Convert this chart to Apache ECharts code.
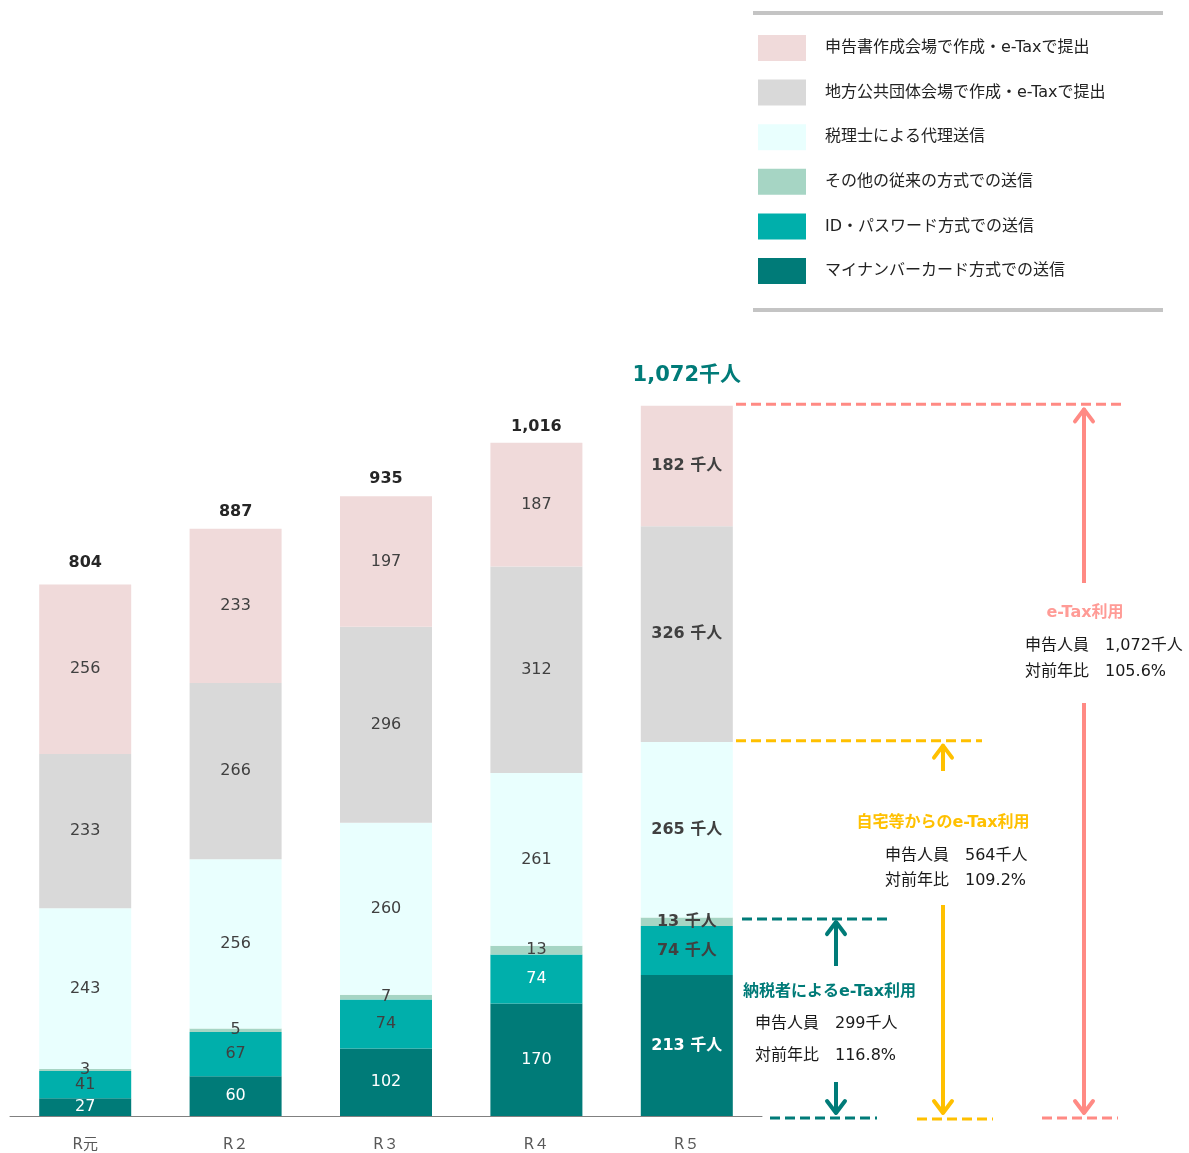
<!DOCTYPE html>
<html><head><meta charset="utf-8">
<script src="https://cdn.jsdelivr.net/npm/echarts@6/dist/echarts.min.js"></script>
<style>html,body{margin:0;padding:0;background:#fff}#c{width:1189px;height:1153px}</style>
</head><body><div id="c"></div>
<script>
const categories = ['R元', 'R２', 'R３', 'R４', 'R５'];
const myNumber = [27, 60, 102, 170, 213];
const idPassword = [41, 67, 74, 74, 74];
const otherTrad = [3, 5, 7, 13, 13];
const taxAccountant = [243, 256, 260, 261, 265];
const localGov = [233, 266, 296, 312, 326];
const venue = [256, 233, 197, 187, 182];
const totals = ['804', '887', '935', '1,016', '1,072千人'];
const seriesNames = ['マイナンバーカード方式での送信', 'ID・パスワード方式での送信', 'その他の従来の方式での送信', '税理士による代理送信', '地方公共団体会場で作成・e-Taxで提出', '申告書作成会場で作成・e-Taxで提出'];
const ann = {
  all: {title: 'e-Tax利用', people: '1,072千人', ratio: '105.6%', value: 1072},
  home: {title: '自宅等からのe-Tax利用', people: '564千人', ratio: '109.2%', value: 564},
  self: {title: '納税者によるe-Tax利用', people: '299千人', ratio: '116.8%', value: 299}
};

const FONT = '"DejaVu Sans", "Noto Sans CJK JP", sans-serif';
const colors = ['#007b78', '#00afab', '#a6d5c4', '#e9fffe', '#d9d9d9', '#f0dada'];
const labelColors = [
  ['#ffffff','#ffffff','#ffffff','#ffffff','#ffffff'],
  ['#404040','#404040','#404040','#ffffff','#404040'],
  ['#404040','#404040','#404040','#404040','#404040'],
  ['#404040','#404040','#404040','#404040','#404040'],
  ['#404040','#404040','#404040','#404040','#404040'],
  ['#404040','#404040','#404040','#404040','#404040']
];
const values = [myNumber, idPassword, otherTrad, taxAccountant, localGov, venue];

const series = values.map((arr, si) => ({
  name: seriesNames[si],
  type: 'bar',
  stack: 'total',
  barWidth: 92,
  itemStyle: {color: colors[si]},
  data: arr.map((v, i) => ({
    value: v,
    label: {
      show: true,
      position: 'inside',
      color: labelColors[si][i],
      fontFamily: FONT,
      fontSize: 16,
      fontWeight: i === 4 ? 'bold' : 'normal',
      formatter: i === 4 ? (v + ' 千人') : String(v)
    }
  }))
}));
const totalDist = [14, 9, 10, 8, 20];
series.push({
  name: 'total',
  type: 'bar',
  stack: 'total',
  barWidth: 92,
  itemStyle: {color: 'transparent'},
  data: totals.map((t, i) => ({
    value: 0,
    label: {
      show: true,
      position: 'top',
      distance: totalDist[i],
      formatter: t,
      fontFamily: FONT,
      fontWeight: 'bold',
      fontSize: i === 4 ? 21 : 16,
      color: i === 4 ? '#007b78' : '#262626'
    }
  }))
});

const chart = echarts.init(document.getElementById('c'));
chart.setOption({
  animation: false,
  backgroundColor: '#fff',
  grid: {left: 10, right: 427, top: 123, bottom: 36},
  legend: {
    data: seriesNames.slice().reverse(),
    orient: 'vertical',
    left: 758, top: 35, padding: 0,
    itemWidth: 48, itemHeight: 26, itemGap: 18.6,
    icon: 'rect',
    textStyle: {fontFamily: FONT, fontSize: 16, color: '#222', padding: [0, 0, 0, 14]}
  },
  xAxis: {
    type: 'category', data: categories,
    axisLine: {lineStyle: {color: '#808080', width: 1}},
    axisTick: {show: false},
    axisLabel: {fontFamily: FONT, fontSize: 15, color: '#595959', margin: 22}
  },
  yAxis: {type: 'value', min: 0, max: 1500, show: false, splitLine: {show: false}},
  series: series
});

function drawAnnotations() {
  const y = v => chart.convertToPixel({gridIndex: 0}, [4, v])[1];
  const y0 = y(0), yAll = y(ann.all.value), yHome = y(ann.home.value), ySelf = y(ann.self.value);
  const g = [];
  const dashed = (x1, x2, yy, c) => g.push({type: 'line', shape: {x1, y1: yy, x2, y2: yy}, style: {stroke: c, lineWidth: 3, lineDash: [10, 5]}});
  const vline = (x, a, b, c) => g.push({type: 'line', shape: {x1: x, y1: a, x2: x, y2: b}, style: {stroke: c, lineWidth: 4}});
  const head = (x, tip, dir, c) => g.push({type: 'polyline', shape: {points: [[x - 9, tip + dir * 12], [x, tip], [x + 9, tip + dir * 12]]}, style: {stroke: c, lineWidth: 4, fill: null, lineCap: 'round', lineJoin: 'round'}});
  const text = (x, yy, t, c, opts) => g.push({type: 'text', x, y: yy, style: {text: t, fill: c, font: (opts && opts.bold ? 'bold ' : '') + (opts && opts.size || 16) + 'px ' + FONT, textAlign: (opts && opts.align) || 'left', textVerticalAlign: 'middle'}});
  const legendLine = (yy) => g.push({type: 'line', shape: {x1: 753, y1: yy, x2: 1163, y2: yy}, style: {stroke: '#c4c4c4', lineWidth: 4}});
  legendLine(13); legendLine(310);

  const pink = '#ff8a84';
  dashed(736, 1122, yAll - 2, pink);
  vline(1084, yAll + 2, 583, pink); head(1084, yAll + 3, 1, pink);
  vline(1084, 703, y0 - 2, pink); head(1084, y0 - 3, -1, pink);
  dashed(1042, 1118, y0 + 2, pink);
  text(1085, 613, ann.all.title, '#ff9b96', {bold: true, align: 'center'});
  text(1025, 646, '申告人員　' + ann.all.people, '#1a1a1a');
  text(1025, 672, '対前年比　' + ann.all.ratio, '#1a1a1a');

  const yel = '#ffc000';
  dashed(736, 982, yHome - 2, yel);
  vline(943, yHome + 2, 771, yel); head(943, yHome + 3, 1, yel);
  vline(943, 905, y0 - 2, yel); head(943, y0 - 3, -1, yel);
  dashed(917, 993, y0 + 3, yel);
  text(943, 823, ann.home.title, yel, {bold: true, align: 'center'});
  text(885, 856, '申告人員　' + ann.home.people, '#1a1a1a');
  text(885, 881, '対前年比　' + ann.home.ratio, '#1a1a1a');

  const tl = '#007b78';
  dashed(742, 892, ySelf + 1, tl);
  vline(836, ySelf + 3, 966, tl); head(836, ySelf + 4, 1, tl);
  vline(836, 1082, y0 - 2, tl); head(836, y0 - 3, -1, tl);
  dashed(770, 877, y0 + 2, tl);
  text(743, 992, ann.self.title, tl, {bold: true});
  text(755, 1024, '申告人員　' + ann.self.people, '#1a1a1a');
  text(755, 1056, '対前年比　' + ann.self.ratio, '#1a1a1a');

  chart.setOption({graphic: {elements: g}});
}
drawAnnotations();
</script>
</body></html>
